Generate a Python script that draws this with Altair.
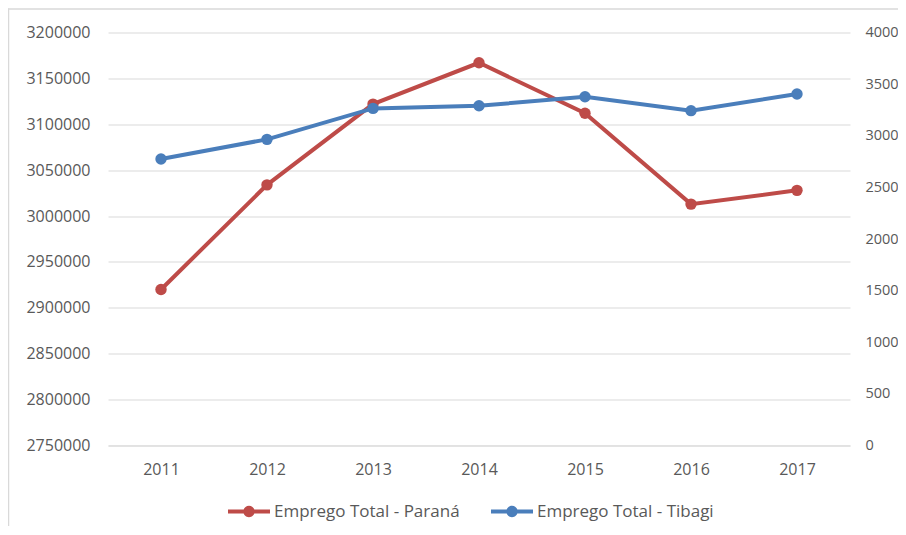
import altair as alt
import pandas as pd

years = ["2011", "2012", "2013", "2014", "2015", "2016", "2017"]
parana = [2920000, 3034000, 3122000, 3167000, 3112000, 3013000, 3028000]
tibagi = [2775, 2965, 3265, 3290, 3378, 3243, 3404]
series_names = ["Emprego Total - Paraná", "Emprego Total - Tibagi"]
colors = ["#be4b48", "#4a7ebb"]
left_ticks = list(range(2750000, 3200001, 50000))
right_ticks = list(range(0, 4001, 500))

rows = []
for y, v in zip(years, parana):
    rows.append({"year": y, "value": v, "series": series_names[0]})
for y, v in zip(years, tibagi):
    rows.append({"year": y, "value": v, "series": series_names[1]})
df = pd.DataFrame(rows)

FONT = "Open Sans"
LABEL = "#595959"
GRID = "#d9d9d9"

legend_path = ("M-1,-0.1H1V0.1H-1Z "
               "M0.27,0A0.27,0.27 0 1,1 -0.27,0A0.27,0.27 0 1,1 0.27,0Z")

x_enc = alt.X("year:O", sort=years,
              scale=alt.Scale(type="point", padding=0.5),
              axis=alt.Axis(title=None, labelAngle=0, ticks=False, domain=True,
                            domainColor=GRID, labelColor=LABEL, labelFontSize=16,
                            labelFont=FONT, labelPadding=16))

color_scale = alt.Scale(domain=series_names, range=colors)

base = alt.Chart(df)

left_y = alt.Y("value:Q",
               scale=alt.Scale(domain=[2750000, 3200000], nice=False, zero=False),
               axis=alt.Axis(title=None, values=left_ticks, format="d", orient="left",
                             grid=True, gridColor=GRID, domain=False, ticks=False,
                             labelColor=LABEL, labelFontSize=16, labelFont=FONT,
                             labelPadding=18))
right_y = alt.Y("value:Q",
                scale=alt.Scale(domain=[0, 4000], nice=False),
                axis=alt.Axis(title=None, values=right_ticks, format="d", orient="right",
                              grid=False, domain=False, ticks=False,
                              labelColor=LABEL, labelFontSize=14.5, labelFont=FONT,
                              labelPadding=15))

legend = alt.Legend(title=None, orient="none", direction="horizontal",
                    legendX=120, legendY=458, symbolType=legend_path,
                    symbolSize=1764, symbolStrokeWidth=0, labelFont=FONT,
                    labelFontSize=17, labelColor=LABEL, labelOffset=4,
                    columnPadding=31, labelLimit=400)

color_enc = alt.Color("series:N", scale=color_scale, legend=legend)

par = base.transform_filter(alt.datum.series == series_names[0])
tib = base.transform_filter(alt.datum.series == series_names[1])

left = alt.layer(
    par.mark_line(strokeWidth=4, color=colors[0]).encode(x=x_enc, y=left_y),
    par.mark_point(filled=True, size=130, opacity=1).encode(
        x=x_enc, y=left_y, color=color_enc),
)
right = alt.layer(
    tib.mark_line(strokeWidth=4, color=colors[1]).encode(x=x_enc, y=right_y),
    tib.mark_point(filled=True, size=130, opacity=1).encode(
        x=x_enc, y=right_y, color=color_enc),
)

border_df = pd.DataFrame({"k": [0]})
border = alt.layer(
    alt.Chart(border_df).mark_rule(color=GRID, strokeWidth=1.5).encode(
        x=alt.value(-99.5), y=alt.value(-24), y2=alt.value(700)),
    alt.Chart(border_df).mark_rule(color=GRID, strokeWidth=1.5).encode(
        x=alt.value(-100), x2=alt.value(900), y=alt.value(-23.5)),
)

chart = alt.layer(left, right, border).resolve_scale(y="independent").properties(
    width=742, height=413,
    autosize=alt.AutoSizeParams(type="none"),
    padding={"left": 100, "top": 24.5, "right": 48, "bottom": 80},
    background="white",
).configure_view(strokeWidth=0)

chart.save("out.html", embed_options={"renderer": "svg", "actions": False})
